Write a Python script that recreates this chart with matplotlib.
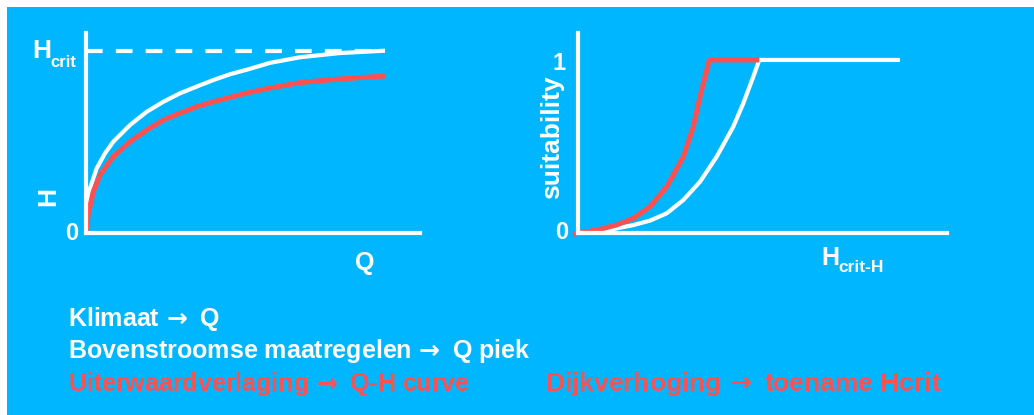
import matplotlib
matplotlib.use("Agg")
import matplotlib.pyplot as plt
from matplotlib.patches import Rectangle

plt.rcParams['font.family'] = ['Liberation Sans', 'DejaVu Sans']
plt.rcParams['font.weight'] = 'bold'
plt.rcParams['lines.scale_dashes'] = False
plt.rcParams['mathtext.fontset'] = 'dejavusans'

BLUE = '#00B7FF'
RED = '#FF5050'
WHITE = 'white'

# left panel: Q-H curves (H relative to Hcrit, Q in % of curve end)
q_white = [0, 0.3, 0.77, 3.58, 6.35, 9.13, 14.7, 20.3, 25.9, 31.4, 37.0, 42.6, 48.2, 54.3, 61.5, 71.6, 84.9, 100]
h_white = [0, 0.12, 0.218, 0.355, 0.437, 0.501, 0.592, 0.665, 0.720, 0.766, 0.803, 0.839, 0.871, 0.898, 0.933, 0.964, 0.987, 1.0]
q_red = [0, 0.77, 2.44, 4.68, 9.13, 14.7, 20.3, 25.9, 31.4, 37.0, 42.6, 48.2, 54.3, 61.5, 71.6, 84.9, 100]
h_red = [0, 0.108, 0.227, 0.318, 0.419, 0.501, 0.565, 0.620, 0.657, 0.693, 0.720, 0.744, 0.770, 0.795, 0.825, 0.845, 0.861]
h_crit = 1.0

# right panel: suitability vs Hcrit-H
x_white = [0, 0.22, 0.553, 0.72, 0.887, 1.053, 1.22, 1.387, 1.553, 1.653, 1.753, 1.813, 3.22]
s_white = [0, 0.006, 0.044, 0.070, 0.112, 0.189, 0.295, 0.440, 0.614, 0.749, 0.903, 1.0, 1.0]
x_red = [-0.05, 0.22, 0.387, 0.553, 0.72, 0.887, 1.053, 1.153, 1.22, 1.27, 1.313, 1.813]
s_red = [-0.01, 0.020, 0.045, 0.083, 0.151, 0.266, 0.440, 0.614, 0.788, 0.903, 1.0, 1.0]

ARROW = r' $\!\rightarrow$ '
lines_white = ['Klimaat' + ARROW + 'Q', 'Bovenstroomse maatregelen' + ARROW + 'Q piek']
line_red_left = 'Uiterwaardverlaging' + ARROW + 'Q-H curve'
line_red_right = 'Dijkverhoging' + ARROW + 'toename Hcrit'

W, H = 1034, 415
fig = plt.figure(figsize=(W / 100, H / 100), dpi=100, facecolor='white')
fig.patches.append(Rectangle((7 / W, 0), 1, 1 - 7 / H, transform=fig.transFigure,
                             facecolor=BLUE, edgecolor='none', zorder=-5))


def ftxt(x, y, s, **kw):
    # place text using pixel coords measured from top-left
    fig.text(x / W, 1 - y / H, s, color=kw.pop('color', WHITE), fontweight='bold', **kw)


def setup(ax):
    ax.set_facecolor('none')
    for side in ['top', 'right']:
        ax.spines[side].set_visible(False)
    for side in ['left', 'bottom']:
        ax.spines[side].set_color(WHITE)
        ax.spines[side].set_linewidth(3)
    ax.set_xticks([])
    ax.set_yticks([])


ax1 = fig.add_axes([86 / W, (H - 233) / H, 334 / W, 200 / H])
setup(ax1)
ax1.set_xlim(0, 111.7)
ax1.set_ylim(0, 1.097)
ax1.hlines(h_crit, 0, 100, colors=WHITE, linewidth=3, linestyles=(0, (12, 9.5)))
ax1.plot(q_white, h_white, color=WHITE, lw=3, solid_capstyle='butt', solid_joinstyle='round', clip_on=False)
ax1.plot(q_red, h_red, color=RED, lw=3.6, solid_capstyle='butt', solid_joinstyle='round', clip_on=False)

ax2 = fig.add_axes([578 / W, (H - 232.7) / H, 369 / W, 199.7 / H])
setup(ax2)
ax2.set_xlim(0, 3.69)
ax2.set_ylim(0, 1.156)
ax2.plot(x_white, s_white, color=WHITE, lw=3, solid_capstyle='butt', solid_joinstyle='round', clip_on=False)
ax2.plot(x_red, s_red, color=RED, lw=3.6, solid_capstyle='butt', solid_joinstyle='round', clip_on=False)

# left panel labels
ftxt(32, 58, 'H', fontsize=19, ha='left', va='baseline')
ftxt(50, 67, 'crit', fontsize=12, ha='left', va='baseline')
ftxt(78, 233, '0', fontsize=17, ha='right', va='center')
ftxt(48, 196, 'H', fontsize=19, rotation=90, ha='center', va='center')
ftxt(365, 263, 'Q', fontsize=18, ha='center', va='center')

# right panel labels
ftxt(568, 232, '0', fontsize=17, ha='right', va='center')
ftxt(566, 64, '1', fontsize=17, ha='right', va='center')
ftxt(552, 137, 'suitability', fontsize=19, rotation=90, ha='center', va='center')
ftxt(821, 265, 'H', fontsize=18, ha='left', va='baseline')
ftxt(838, 272, 'crit-H', fontsize=12.5, ha='left', va='baseline')

# bottom notes
ftxt(68, 326, lines_white[0], fontsize=18, ha='left', va='baseline')
ftxt(68, 358, lines_white[1], fontsize=18, ha='left', va='baseline')
ftxt(68, 391, line_red_left, fontsize=18, ha='left', va='baseline', color=RED)
ftxt(545, 391, line_red_right, fontsize=19, ha='left', va='baseline', color=RED)

fig.savefig('out.png', dpi=100, facecolor='white')
